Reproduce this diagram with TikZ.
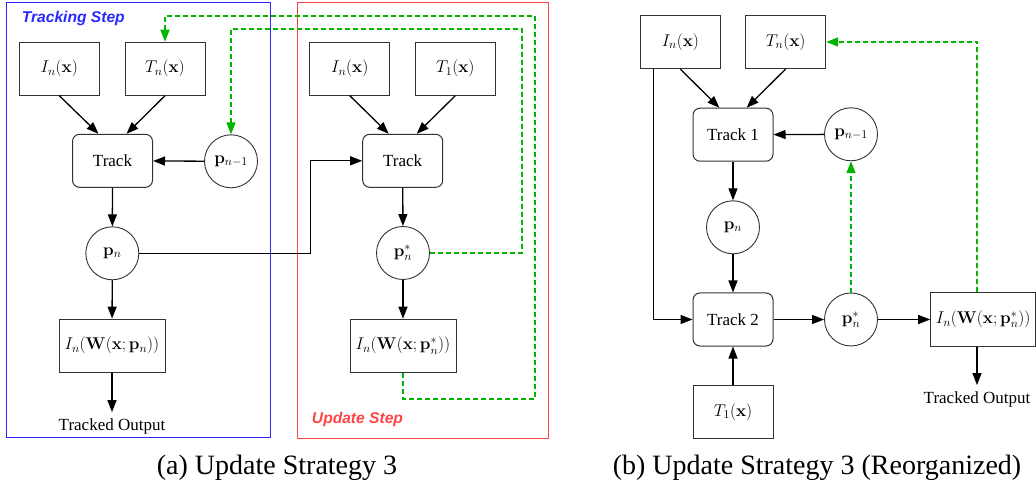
\RequirePackage{fix-cm}
\documentclass[tikz,border=0pt]{standalone}
\usepackage[no-math]{fontspec}
\setmainfont{Liberation Serif}
\newfontfamily\labelfont{Liberation Sans}
\usetikzlibrary{arrows.meta}
\definecolor{gdash}{RGB}{0,180,0}
\definecolor{fblue}{RGB}{40,40,255}
\definecolor{fred}{RGB}{255,70,70}
\definecolor{bord}{RGB}{50,50,50}
\begin{document}
\begin{tikzpicture}[x=1pt,y=-1pt,
 every node/.style={font=\fontsize{17}{20}\selectfont},
 stbox/.style={draw=bord, line width=1pt, minimum width=80pt, minimum height=53pt, inner sep=0pt},
 rbox/.style={stbox, rounded corners=7pt},
 circ/.style={draw=bord, circle, line width=0.9pt, minimum size=53pt, inner sep=0pt},
 panelframe/.style={line width=1pt, inner sep=0pt},
 arr/.style={line width=1.3pt, -{Triangle[length=12pt,width=9pt]}},
 garr/.style={draw=gdash, line width=1.6pt, dash pattern=on 5pt off 3pt, -{Triangle[length=12pt,width=9pt]}},
 steplabel/.style={font=\labelfont\bfseries\itshape\fontsize{15.6}{18}\selectfont},
 captext/.style={font=\fontsize{28}{32}\selectfont},
 outtext/.style={inner sep=6pt}
]
\useasboundingbox (0,0) rectangle (1036,486);

% frames
\node[panelframe, draw=fblue, minimum width=264pt, minimum height=435pt] (blueframe) at (138.7,220.2) {};
\node[panelframe, draw=fred, minimum width=250.7pt, minimum height=435.3pt] (redframe) at (422.65,220.35) {};
\node[steplabel, text=fblue] (tstep) at (73.3,18.3) {Tracking Step};
\node[steplabel, text=fred] (ustep) at (357.5,419.3) {Update Step};

% panel (a) left
\node[stbox] (aIn) at (59.3,68.7) {$I_n(\mathbf{x})$};
\node[stbox] (aTn) at (165,68.7) {$T_n(\mathbf{x})$};
\node[rbox] (atrack) at (112.5,160.8) {Track};
\node[circ] (apm) at (231,161.3) {$\mathbf{p}_{n-1}$};
\node[circ] (apn) at (112.3,253.3) {$\mathbf{p}_n$};
\node[stbox, minimum width=106pt] (aW) at (112,345.6) {$I_n(\mathbf{W}(\mathbf{x};\mathbf{p}_n))$};
\node[outtext] (aout) at (112,426) {Tracked Output};

% panel (a) right
\node[stbox] (bIn) at (349.8,68.7) {$I_n(\mathbf{x})$};
\node[stbox] (bT1) at (455.3,68.7) {$T_1(\mathbf{x})$};
\node[rbox] (btrack) at (402.7,160.8) {Track};
\node[circ] (bps) at (403,253) {$\mathbf{p}^*_n$};
\node[stbox, minimum width=106pt] (bW) at (403,345.7) {$I_n(\mathbf{W}(\mathbf{x};\mathbf{p}^*_n))$};

% panel (b)
\node[stbox] (cIn) at (680.4,42.2) {$I_n(\mathbf{x})$};
\node[stbox] (cTn) at (785.7,42) {$T_n(\mathbf{x})$};
\node[rbox] (ctrackA) at (733,134.7) {Track 1};
\node[circ] (cpm) at (851,134.3) {$\mathbf{p}_{n-1}$};
\node[circ] (cpn) at (733,227.3) {$\mathbf{p}_n$};
\node[rbox] (ctrackB) at (733,319.5) {Track 2};
\node[circ] (cps) at (851,319.5) {$\mathbf{p}^*_n$};
\node[stbox, minimum width=105pt] (cW) at (983.2,319.5) {$I_n(\mathbf{W}(\mathbf{x};\mathbf{p}^*_n))$};
\node[stbox] (cT1) at (733,412) {$T_1(\mathbf{x})$};
\node[outtext] (cout) at (977,399) {Tracked Output};

% captions
\node[captext] (capa) at (277,468) {(a) Update Strategy 3};
\node[captext] (capb) at (817,468) {(b) Update Strategy 3 (Reorganized)};

% coordinates
\coordinate (j1) at (310.3,253.3);
\coordinate (go1) at (535,399);
\coordinate (go2) at (535,16);
\coordinate (gi1) at (522,253);
\coordinate (gi2) at (522,29);
\coordinate (gr) at (977,42);

% connectors (a)
\draw[arr] (aIn.south) -- ([xshift=-14pt]atrack.north);
\draw[arr] (aTn.south) -- ([xshift=14pt]atrack.north);
\draw[arr] (apm) -- (atrack);
\draw[arr] (atrack) -- (apn);
\draw[arr] (apn) -- (aW);
\draw[arr] (aW) -- (aout);
\draw[arr] (apn) -- (j1) |- (btrack);
\draw[arr] (bIn.south) -- ([xshift=-14pt]btrack.north);
\draw[arr] (bT1.south) -- ([xshift=14pt]btrack.north);
\draw[arr] (btrack) -- (bps);
\draw[arr] (bps) -- (bW);
\draw[garr] (bW.south) -- (bW.south |- go1) -- (go1) -- (go2) -- (aTn.north |- go2) -- (aTn.north);
\draw[garr] (bps.east) -- (gi1) -- (gi2) -- (apm.north |- gi2) -- (apm.north);

% connectors (b)
\draw[arr] (cIn.south) -- ([xshift=-13.7pt]ctrackA.north);
\draw[arr] (cTn.south) -- ([xshift=13.7pt]ctrackA.north);
\draw[arr] ([xshift=-27pt]cIn.south) |- (ctrackB);
\draw[arr] (cpm) -- (ctrackA);
\draw[arr] (ctrackA) -- (cpn);
\draw[arr] (cpn) -- (ctrackB);
\draw[arr] (cT1) -- (ctrackB);
\draw[arr] (ctrackB) -- (cps);
\draw[arr] (cps) -- (cW);
\draw[arr] (cW.south -| cout) -- (cout.north);
\draw[garr] (cps) -- (cpm);
\draw[garr] (cW.north -| gr) -- (gr) -- (cTn.east);
\end{tikzpicture}
\end{document}
